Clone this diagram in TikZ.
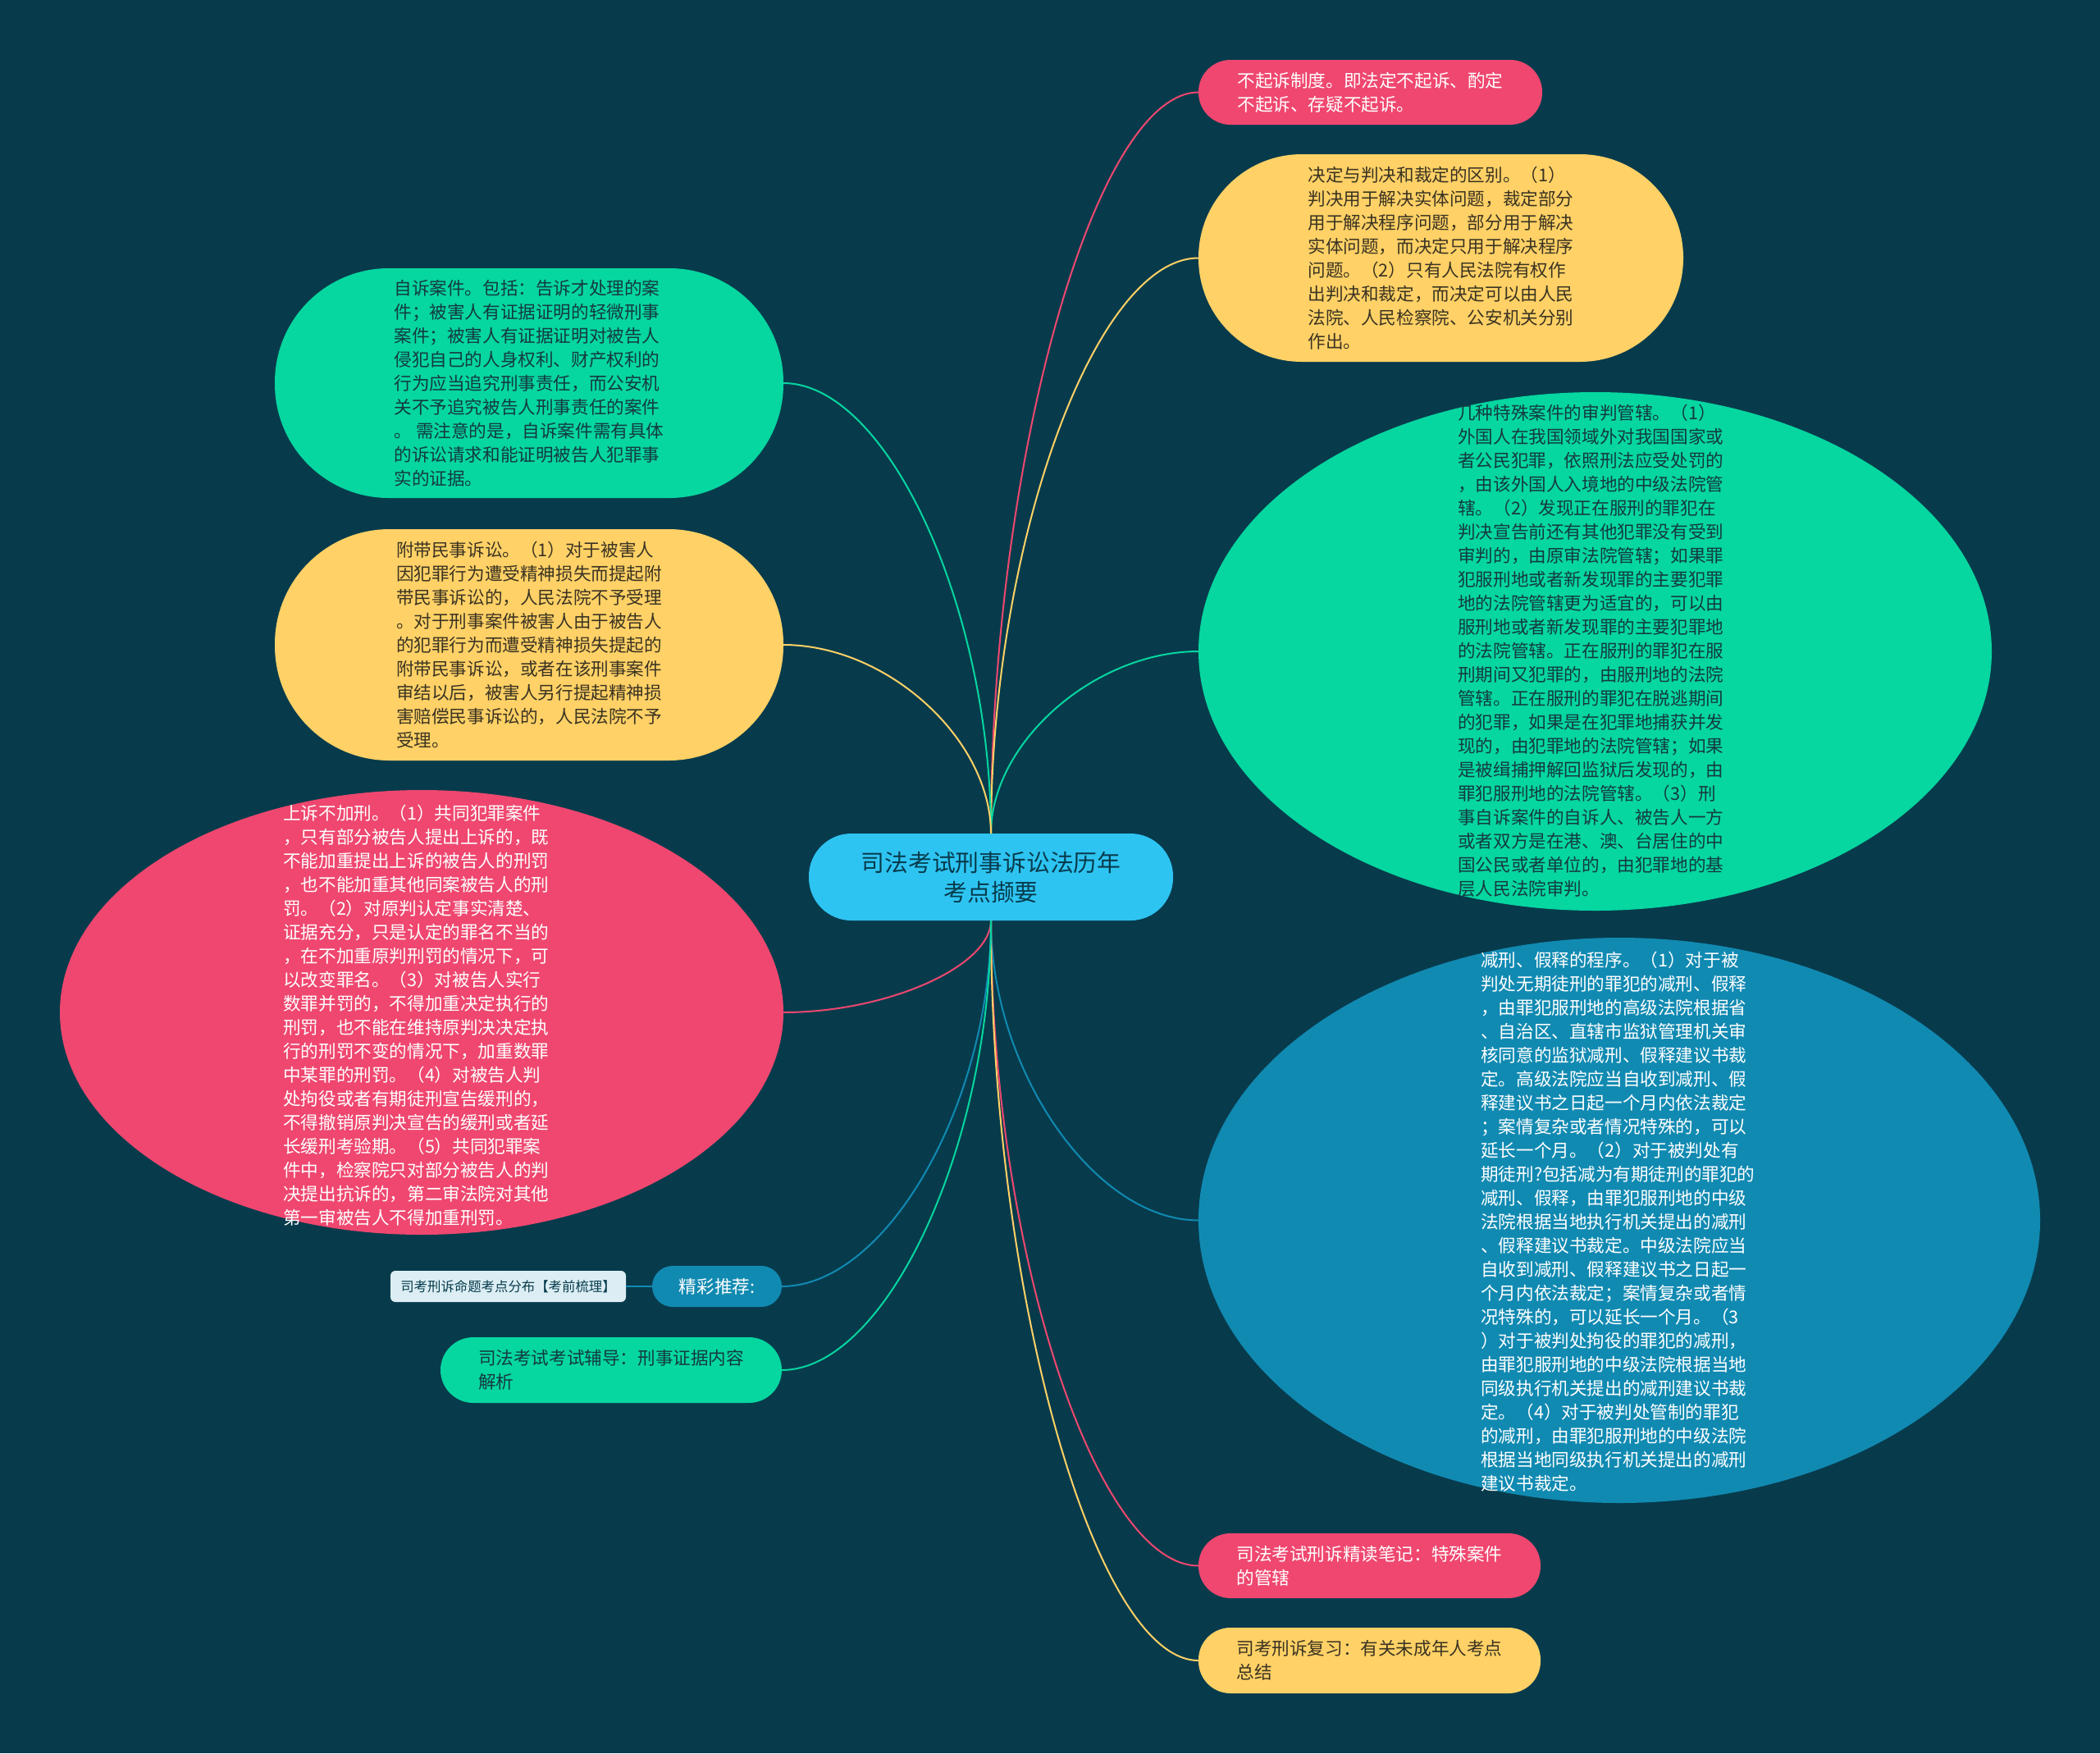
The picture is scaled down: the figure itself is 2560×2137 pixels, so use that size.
\documentclass[tikz,border=0pt]{standalone}
\usepackage{fontspec}
\setmainfont{Noto Sans CJK SC}
\usetikzlibrary{calc,shapes.geometric}
\definecolor{bgc}{HTML}{073B4C}
\definecolor{cpink}{HTML}{EF476F}
\definecolor{cyel}{HTML}{FFD166}
\definecolor{cgreen}{HTML}{06D6A0}
\definecolor{cblue}{HTML}{118AB2}
\definecolor{ccyan}{HTML}{2EC4F2}
\definecolor{clabel}{HTML}{DCEEF4}
\definecolor{tdark}{HTML}{143A40}
\definecolor{tyel}{HTML}{3A3322}
\newcommand\mmlink[3]{\draw[link,#1] (#2) .. controls ($(#2)!0.5!(#2|-#3)$) and ($(#3)!0.5!(#2|-#3)$) .. (#3);}
\begin{document}
\begin{tikzpicture}[x=1pt,y=1pt,
  link/.style={line width=2pt},
  body/.style={font=\fontsize{21.6}{29}\selectfont, align=left, inner sep=0pt},
  pillbox/.style={rectangle, inner sep=0pt, outer sep=0pt},
  ovalbox/.style={ellipse, inner sep=0pt, outer sep=0pt}]
\fill[bgc] (0,0) rectangle (2560,-2137);
\useasboundingbox (0,0) rectangle (2560,-2137);

% center
\node[pillbox, fill=ccyan, rounded corners=52pt, minimum width=444pt, minimum height=106pt,
  text=bgc, align=center, font=\fontsize{28.8}{36}\selectfont] (c) at (1208,-1069)
  {司法考试刑事诉讼法历年\\考点撷要};

% right side
\node[pillbox, fill=cpink, rounded corners=39pt, minimum width=419pt, minimum height=79pt,
  body, text=white] (tp) at (1670.5,-112.5)
  {不起诉制度。即法定不起诉、酌定\\不起诉、存疑不起诉。};

\node[pillbox, fill=cyel, rounded corners=126pt, minimum width=591pt, minimum height=253pt,
  body, text=tyel] (ty) at (1756.5,-314.5)
  {决定与判决和裁定的区别。（1）\\判决用于解决实体问题，裁定部分\\用于解决程序问题，部分用于解决\\实体问题，而决定只用于解决程序\\问题。（2）只有人民法院有权作\\出判决和裁定，而决定可以由人民\\法院、人民检察院、公安机关分别\\作出。};

\node[ovalbox, fill=cgreen, minimum width=967pt, minimum height=632pt] (rg) at (1944.5,-794) {};
\node[body, text=tdark, anchor=west] (rgt) at (1777,-793)
  {几种特殊案件的审判管辖。（1）\\外国人在我国领域外对我国国家或\\者公民犯罪，依照刑法应受处罚的\\，由该外国人入境地的中级法院管\\辖。（2）发现正在服刑的罪犯在\\判决宣告前还有其他犯罪没有受到\\审判的，由原审法院管辖；如果罪\\犯服刑地或者新发现罪的主要犯罪\\地的法院管辖更为适宜的，可以由\\服刑地或者新发现罪的主要犯罪地\\的法院管辖。正在服刑的罪犯在服\\刑期间又犯罪的，由服刑地的法院\\管辖。正在服刑的罪犯在脱逃期间\\的犯罪，如果是在犯罪地捕获并发\\现的，由犯罪地的法院管辖；如果\\是被缉捕押解回监狱后发现的，由\\罪犯服刑地的法院管辖。（3）刑\\事自诉案件的自诉人、被告人一方\\或者双方是在港、澳、台居住的中\\国公民或者单位的，由犯罪地的基\\层人民法院审判。};

\node[ovalbox, fill=cblue, minimum width=1026pt, minimum height=689pt] (rb) at (1974,-1487.5) {};
\node[body, text=white, anchor=west] (rbt) at (1805,-1489)
  {减刑、假释的程序。（1）对于被\\判处无期徒刑的罪犯的减刑、假释\\，由罪犯服刑地的高级法院根据省\\、自治区、直辖市监狱管理机关审\\核同意的监狱减刑、假释建议书裁\\定。高级法院应当自收到减刑、假\\释建议书之日起一个月内依法裁定\\；案情复杂或者情况特殊的，可以\\延长一个月。（2）对于被判处有\\期徒刑?包括减为有期徒刑的罪犯的\\减刑、假释，由罪犯服刑地的中级\\法院根据当地执行机关提出的减刑\\、假释建议书裁定。中级法院应当\\自收到减刑、假释建议书之日起一\\个月内依法裁定；案情复杂或者情\\况特殊的，可以延长一个月。（3\\）对于被判处拘役的罪犯的减刑，\\由罪犯服刑地的中级法院根据当地\\同级执行机关提出的减刑建议书裁\\定。（4）对于被判处管制的罪犯\\的减刑，由罪犯服刑地的中级法院\\根据当地同级执行机关提出的减刑\\建议书裁定。};

\node[pillbox, fill=cpink, rounded corners=39pt, minimum width=417pt, minimum height=79pt,
  body, text=white] (bp) at (1669.5,-1908.5)
  {司法考试刑诉精读笔记：特殊案件\\的管辖};

\node[pillbox, fill=cyel, rounded corners=39pt, minimum width=417pt, minimum height=80pt,
  body, text=tyel] (by) at (1669.5,-2024)
  {司考刑诉复习：有关未成年人考点\\总结};

% left side
\node[pillbox, fill=cgreen, rounded corners=139pt, minimum width=620pt, minimum height=280pt,
  body, text=tdark] (lg) at (645,-467)
  {自诉案件。包括：告诉才处理的案\\件；被害人有证据证明的轻微刑事\\案件；被害人有证据证明对被告人\\侵犯自己的人身权利、财产权利的\\行为应当追究刑事责任，而公安机\\关不予追究被告人刑事责任的案件\\。 需注意的是，自诉案件需有具体\\的诉讼请求和能证明被告人犯罪事\\实的证据。};

\node[pillbox, fill=cyel, rounded corners=140pt, minimum width=620pt, minimum height=282pt,
  body, text=tyel] (ly) at (645,-786)
  {附带民事诉讼。（1）对于被害人\\因犯罪行为遭受精神损失而提起附\\带民事诉讼的，人民法院不予受理\\。对于刑事案件被害人由于被告人\\的犯罪行为而遭受精神损失提起的\\附带民事诉讼，或者在该刑事案件\\审结以后，被害人另行提起精神损\\害赔偿民事诉讼的，人民法院不予\\受理。};

\node[ovalbox, fill=cpink, minimum width=882pt, minimum height=542pt] (lp) at (514,-1234) {};
\node[body, text=white, anchor=west] (lpt) at (345,-1238)
  {上诉不加刑。（1）共同犯罪案件\\，只有部分被告人提出上诉的，既\\不能加重提出上诉的被告人的刑罚\\，也不能加重其他同案被告人的刑\\罚。（2）对原判认定事实清楚、\\证据充分，只是认定的罪名不当的\\，在不加重原判刑罚的情况下，可\\以改变罪名。（3）对被告人实行\\数罪并罚的，不得加重决定执行的\\刑罚，也不能在维持原判决决定执\\行的刑罚不变的情况下，加重数罪\\中某罪的刑罚。（4）对被告人判\\处拘役或者有期徒刑宣告缓刑的，\\不得撤销原判决宣告的缓刑或者延\\长缓刑考验期。（5）共同犯罪案\\件中，检察院只对部分被告人的判\\决提出抗诉的，第二审法院对其他\\第一审被告人不得加重刑罚。};

\node[pillbox, fill=cblue, rounded corners=25pt, minimum width=158pt, minimum height=50pt,
  text=white, font=\fontsize{21.6}{26}\selectfont] (jc) at (874,-1568) {精彩推荐:};

\node[pillbox, fill=clabel, rounded corners=6pt, minimum width=287pt, minimum height=38pt,
  text=bgc, font=\fontsize{16.4}{20}\selectfont] (lb) at (619.5,-1568) {司考刑诉命题考点分布【考前梳理】};

\node[pillbox, fill=cgreen, rounded corners=40pt, minimum width=416pt, minimum height=80pt,
  body, text=tdark] (bg) at (745,-1670)
  {司法考试考试辅导：刑事证据内容\\解析};

% connectors
\mmlink{cpink}{c.north}{tp.west}
\mmlink{cyel}{c.north}{ty.west}
\mmlink{cgreen}{c.north}{rg.west}
\mmlink{cblue}{c.south}{rb.west}
\mmlink{cpink}{c.south}{bp.west}
\mmlink{cyel}{c.south}{by.west}
\mmlink{cgreen}{c.north}{lg.east}
\mmlink{cyel}{c.north}{ly.east}
\mmlink{cpink}{c.south}{lp.east}
\mmlink{cblue}{c.south}{jc.east}
\mmlink{cgreen}{c.south}{bg.east}
\draw[link,cblue] (lb.east) -- (jc.west);
\end{tikzpicture}
\end{document}
